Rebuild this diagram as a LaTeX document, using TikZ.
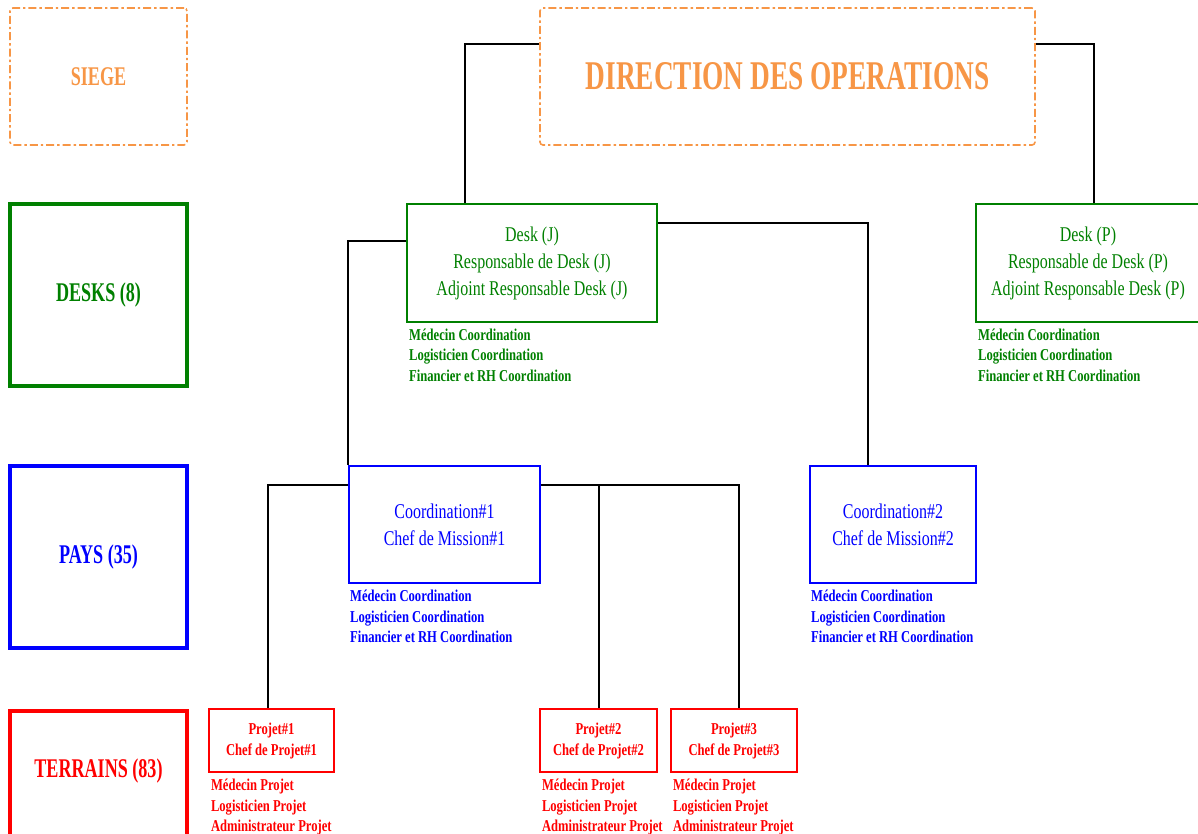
\documentclass[tikz,border=0pt]{standalone}
\usepackage{fontspec}
\setmainfont{Liberation Serif}[FakeStretch=0.76]
\newfontfamily\titlefont{Liberation Serif}[FakeStretch=0.67]
\usetikzlibrary{calc}

\definecolor{opsorange}{RGB}{247,150,70}
\definecolor{deskgreen}{RGB}{0,128,0}
\definecolor{paysblue}{RGB}{0,0,255}
\definecolor{terrred}{RGB}{255,0,0}

\tikzset{
	headbox/.style={draw=opsorange, text=opsorange, line width=0.8pt, rounded corners=1.5pt,
		dash pattern=on 4pt off 1.5pt on 1.2pt off 1.5pt, inner sep=0pt, minimum height=68.5pt},
	levelbox/.style={draw=#1, text=#1, line width=1.75pt, minimum width=88.5pt, minimum height=91pt,
		inner sep=0pt, font=\titlefont\bfseries\fontsize{13.5pt}{16pt}\selectfont},
	unitbox/.style={draw=#1, text=#1, line width=1.25pt, inner sep=0pt, align=center,
		minimum height=59pt, font=\fontsize{10.5pt}{13.5pt}\selectfont},
	projbox/.style={draw=#1, text=#1, line width=1.4pt, inner sep=0pt, align=center,
		minimum height=31.5pt, font=\bfseries\fontsize{8.3pt}{10.5pt}\selectfont},
	staff/.style={text=#1, inner sep=0pt, align=left, anchor=north west,
		font=\bfseries\fontsize{8.3pt}{10.25pt}\selectfont},
	orgline/.style={draw=black, line width=1pt},
}

\begin{document}
\begin{tikzpicture}[x=0.5pt,y=-0.5pt]
		\useasboundingbox (0,0) rectangle (1198,834);

		%siege
		\node[headbox, minimum width=88.5pt, font=\titlefont\bfseries\fontsize{13.5pt}{16pt}\selectfont] (siege) at (98.5,76.5) {SIEGE};
		\node[headbox, minimum width=247.5pt, font=\titlefont\bfseries\fontsize{20.4pt}{24pt}\selectfont] (dirop) at (787.5,76.5) {DIRECTION DES OPERATIONS};

		%levels
		\node[levelbox=deskgreen] (desks) at (98.5,295) {DESKS (8)};
		\node[levelbox=paysblue] (pays) at (98.5,557) {PAYS (35)};
		\node[levelbox=terrred, anchor=north] (terrains) at (98.5,709) {};
		\node[text=terrred, inner sep=0pt, font=\titlefont\bfseries\fontsize{13.5pt}{16pt}\selectfont] (terrainslbl) at (98.5,771) {TERRAINS (83)};

		%desks
		\node[unitbox=deskgreen, minimum width=125pt] (deskj) at (532,263) {Desk (J)\\Responsable de Desk (J)\\Adjoint Responsable Desk (J)};
		\node[unitbox=deskgreen, minimum width=112pt] (deskp) at (1088,263) {Desk (P)\\Responsable de Desk (P)\\Adjoint Responsable Desk (P)};

		%coordinations
		\node[unitbox=paysblue, minimum width=95.5pt, minimum height=58.5pt] (coord1) at (444.5,524.5) {Coordination\#1\\Chef de Mission\#1};
		\node[unitbox=paysblue, minimum width=83pt, minimum height=58.5pt] (coord2) at (893,524.5) {Coordination\#2\\Chef de Mission\#2};

		%projets
		\node[projbox=terrred, minimum width=62.5pt] (proj1) at (271.5,740.5) {Projet\#1\\Chef de Projet\#1};
		\node[projbox=terrred, minimum width=58.5pt] (proj2) at (598.5,740.5) {Projet\#2\\Chef de Projet\#2};
		\node[projbox=terrred, minimum width=63pt] (proj3) at (734,740.5) {Projet\#3\\Chef de Projet\#3};

		%staff lists
		\node[staff=deskgreen] (deskjstaff) at ([shift={(1.5pt,-2.5pt)}]deskj.south west) {Médecin Coordination\\Logisticien Coordination\\Financier et RH Coordination};
		\node[staff=deskgreen] (deskpstaff) at ([shift={(1.5pt,-2.5pt)}]deskp.south west) {Médecin Coordination\\Logisticien Coordination\\Financier et RH Coordination};
		\node[staff=paysblue] (coord1staff) at ([shift={(1pt,-2.75pt)}]coord1.south west) {Médecin Coordination\\Logisticien Coordination\\Financier et RH Coordination};
		\node[staff=paysblue] (coord2staff) at ([shift={(1pt,-2.75pt)}]coord2.south west) {Médecin Coordination\\Logisticien Coordination\\Financier et RH Coordination};
		\node[staff=terrred] (proj1staff) at ([shift={(1.5pt,-2.75pt)}]proj1.south west) {Médecin Projet\\Logisticien Projet\\Administrateur Projet};
		\node[staff=terrred] (proj2staff) at ([shift={(1.5pt,-2.75pt)}]proj2.south west) {Médecin Projet\\Logisticien Projet\\Administrateur Projet};
		\node[staff=terrred] (proj3staff) at ([shift={(1.5pt,-2.75pt)}]proj3.south west) {Médecin Projet\\Logisticien Projet\\Administrateur Projet};

		%links
		\draw[orgline] ([yshift=-18.5pt]dirop.north west) -| ([xshift=29.5pt]deskj.north west);
		\draw[orgline] ([yshift=-18.5pt]dirop.north east) -| ([xshift=3pt]deskp.north);
		\draw[orgline] ([yshift=-19pt]deskj.north west) -| (coord1.north west);
		\draw[orgline] ([yshift=-10pt]deskj.north east) -| ([xshift=-12.5pt]coord2.north);
		\draw[orgline] ([yshift=-10pt]coord1.north west) -| ([xshift=-1.75pt]proj1.north);
		\draw[orgline] ([yshift=-10pt]coord1.north east) -| ([xshift=2.5pt]proj3.north);
		\draw[orgline] (proj2.north) |- ([yshift=-10pt]coord1.north east);
\end{tikzpicture}
\end{document}
